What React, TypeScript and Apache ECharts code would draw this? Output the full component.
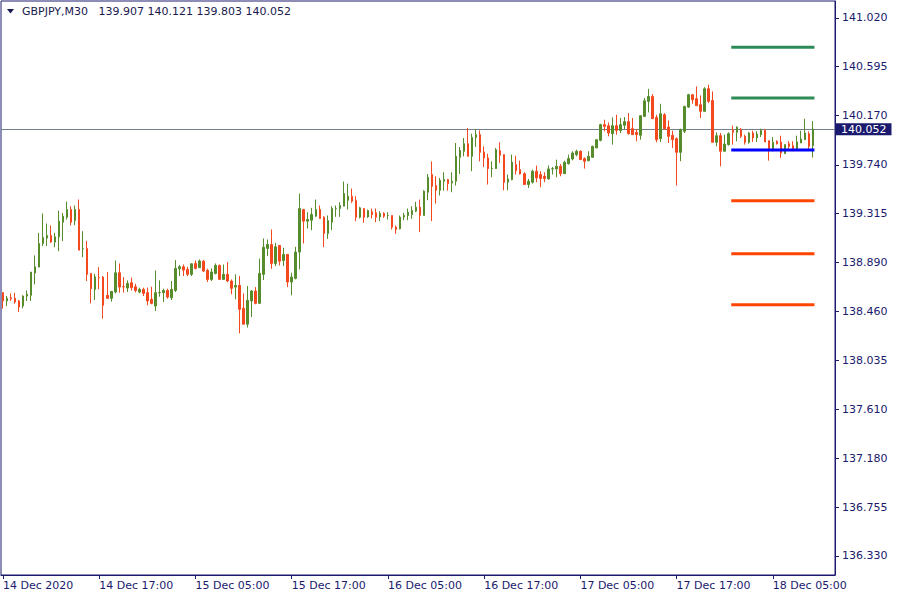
import React, { useEffect, useRef } from "react";
import * as echarts from "echarts";

const FONT = "DejaVu Sans";
const NAVY = "#1a1a6e";

const symbolName = "GBPJPY,M30";

// OHLC of M30 bars, 14 Dec 2020 05:00 onwards
const opens = [
  138.625, 138.553, 138.582, 138.576, 138.553, 138.509, 138.596, 138.602, 138.796, 138.848,
  139.054, 139.101, 139.124, 139.066, 139.112, 139.240, 139.283, 139.350, 139.254, 139.350,
  139.008, 139.011, 138.793, 138.654, 138.756, 138.761, 138.602, 138.576, 138.631, 138.799,
  138.677, 138.666, 138.712, 138.677, 138.631, 138.654, 138.625, 138.567, 138.509, 138.625,
  138.625, 138.645, 138.581, 138.645, 138.834, 138.851, 138.828, 138.785, 138.880, 138.843,
  138.900, 138.819, 138.741, 138.793, 138.863, 138.741, 138.785, 138.727, 138.674, 138.689,
  138.489, 138.350, 138.553, 138.640, 138.532, 138.785, 139.011, 139.045, 138.880, 139.037,
  138.906, 138.959, 138.718, 138.750, 138.979, 139.350, 139.249, 139.257, 139.292, 139.350,
  139.283, 139.141, 139.240, 139.356, 139.359, 139.379, 139.431, 139.466, 139.428, 139.283,
  139.359, 139.286, 139.330, 139.321, 139.286, 139.315, 139.298, 139.298, 139.196, 139.182,
  139.286, 139.298, 139.307, 139.336, 139.370, 139.298, 139.501, 139.655, 139.559, 139.518,
  139.597, 139.611, 139.582, 139.597, 139.805, 139.858, 139.924, 139.814, 139.979, 140.003,
  139.852, 139.800, 139.707, 139.707, 139.863, 139.829, 139.588, 139.611, 139.742, 139.698,
  139.663, 139.568, 139.588, 139.684, 139.655, 139.640, 139.617, 139.704, 139.704, 139.727,
  139.663, 139.750, 139.791, 139.829, 139.858, 139.794, 139.776, 139.805, 139.887, 139.953,
  140.090, 140.081, 140.011, 140.081, 140.040, 140.084, 140.116, 140.055, 140.023, 139.997,
  140.162, 140.293, 140.336, 140.153, 139.968, 140.176, 140.069, 139.997, 139.968, 139.849,
  140.032, 140.243, 140.351, 140.316, 140.264, 140.206, 140.403, 140.301, 139.936, 139.994,
  139.858, 139.916, 140.040, 140.023, 140.046, 139.988, 139.936, 140.017, 139.974, 140.003,
  140.040, 139.950, 139.863, 139.945, 139.939, 139.837, 139.924, 139.907, 139.872, 139.930,
  139.959, 140.011, 139.907,
];
const highs = [
  138.631, 138.596, 138.619, 138.625, 138.561, 138.602, 138.645, 138.805, 138.950, 139.147,
  139.315, 139.228, 139.211, 139.147, 139.341, 139.321, 139.420, 139.379, 139.385, 139.437,
  139.161, 139.075, 138.793, 138.790, 138.848, 138.770, 138.805, 138.637, 138.906, 138.880,
  138.761, 138.732, 138.756, 138.703, 138.669, 138.669, 138.669, 138.677, 138.819, 138.732,
  138.660, 138.660, 138.727, 138.909, 138.866, 138.871, 138.851, 138.880, 138.906, 138.915,
  138.909, 138.834, 138.837, 138.880, 138.871, 138.871, 138.892, 138.741, 138.785, 138.770,
  138.619, 138.683, 138.648, 138.674, 138.921, 139.098, 139.089, 139.176, 139.060, 139.037,
  139.017, 138.959, 138.799, 139.025, 139.489, 139.356, 139.327, 139.365, 139.437, 139.385,
  139.292, 139.298, 139.379, 139.385, 139.414, 139.594, 139.576, 139.533, 139.466, 139.373,
  139.359, 139.350, 139.359, 139.359, 139.335, 139.327, 139.327, 139.298, 139.211, 139.298,
  139.321, 139.359, 139.379, 139.417, 139.437, 139.518, 139.660, 139.770, 139.640, 139.626,
  139.675, 139.617, 139.675, 139.930, 139.895, 139.974, 140.061, 140.011, 140.052, 140.040,
  139.901, 139.837, 139.770, 139.887, 139.936, 139.829, 139.655, 139.829, 139.820, 139.776,
  139.675, 139.617, 139.698, 139.733, 139.684, 139.675, 139.733, 139.721, 139.785, 139.747,
  139.776, 139.829, 139.858, 139.872, 139.866, 139.805, 139.858, 139.907, 139.959, 140.098,
  140.133, 140.110, 140.153, 140.176, 140.148, 140.156, 140.191, 140.148, 140.052, 140.171,
  140.322, 140.403, 140.356, 140.176, 140.272, 140.191, 140.127, 140.037, 139.979, 140.055,
  140.255, 140.359, 140.356, 140.423, 140.345, 140.417, 140.438, 140.380, 140.023, 140.017,
  140.003, 140.023, 140.081, 140.075, 140.061, 140.003, 140.026, 140.037, 140.032, 140.055,
  140.052, 139.950, 139.982, 139.953, 139.994, 139.916, 139.945, 139.945, 139.994, 140.037,
  140.142, 140.032, 140.121,
];
const lows = [
  138.486, 138.509, 138.553, 138.529, 138.457, 138.489, 138.553, 138.553, 138.697, 138.848,
  139.031, 139.031, 139.060, 139.022, 138.987, 139.075, 139.263, 139.211, 139.214, 138.996,
  138.935, 138.727, 138.532, 138.561, 138.654, 138.399, 138.576, 138.547, 138.619, 138.625,
  138.625, 138.631, 138.645, 138.628, 138.619, 138.596, 138.515, 138.524, 138.465, 138.590,
  138.544, 138.573, 138.561, 138.631, 138.770, 138.770, 138.770, 138.770, 138.828, 138.843,
  138.805, 138.718, 138.727, 138.785, 138.741, 138.741, 138.718, 138.611, 138.567, 138.271,
  138.350, 138.321, 138.413, 138.524, 138.532, 138.735, 138.944, 138.834, 138.857, 138.863,
  138.857, 138.674, 138.602, 138.741, 138.828, 139.054, 139.185, 139.170, 139.286, 139.272,
  139.022, 139.095, 139.170, 139.286, 139.286, 139.379, 139.350, 139.408, 139.249, 139.272,
  139.234, 139.277, 139.272, 139.240, 139.249, 139.277, 139.263, 139.176, 139.138, 139.176,
  139.257, 139.257, 139.269, 139.327, 139.153, 139.298, 139.431, 139.249, 139.402, 139.472,
  139.515, 139.515, 139.501, 139.559, 139.660, 139.814, 139.814, 139.684, 139.895, 139.770,
  139.721, 139.568, 139.631, 139.704, 139.756, 139.518, 139.518, 139.605, 139.655, 139.655,
  139.568, 139.539, 139.576, 139.588, 139.544, 139.588, 139.611, 139.655, 139.631, 139.640,
  139.660, 139.742, 139.779, 139.814, 139.785, 139.707, 139.771, 139.800, 139.887, 139.944,
  140.032, 139.988, 139.916, 140.003, 140.017, 140.052, 140.003, 140.003, 139.945, 139.959,
  140.156, 140.197, 140.142, 139.936, 139.939, 140.046, 139.930, 139.887, 139.559, 139.771,
  140.017, 140.235, 140.272, 140.255, 140.148, 140.206, 140.278, 139.936, 139.901, 139.727,
  139.858, 139.907, 139.916, 139.945, 139.974, 139.916, 139.924, 139.939, 139.939, 139.982,
  139.939, 139.776, 139.858, 139.916, 139.800, 139.837, 139.866, 139.858, 139.866, 139.930,
  139.959, 139.872, 139.803,
];
const closes = [
  138.553, 138.576, 138.573, 138.544, 138.500, 138.596, 138.611, 138.805, 138.851, 139.054,
  139.106, 139.124, 139.066, 139.112, 139.248, 139.292, 139.350, 139.240, 139.350, 138.996,
  139.009, 138.785, 138.660, 138.764, 138.755, 138.515, 138.576, 138.637, 138.799, 138.674,
  138.676, 138.706, 138.669, 138.645, 138.654, 138.619, 138.553, 138.532, 138.625, 138.626,
  138.645, 138.587, 138.654, 138.837, 138.851, 138.822, 138.785, 138.877, 138.837, 138.901,
  138.814, 138.741, 138.805, 138.863, 138.741, 138.785, 138.727, 138.663, 138.689, 138.480,
  138.350, 138.558, 138.640, 138.532, 138.793, 139.022, 139.045, 138.880, 139.025, 138.900,
  138.959, 138.718, 138.761, 138.979, 139.359, 139.249, 139.263, 139.307, 139.350, 139.272,
  139.141, 139.254, 139.359, 139.357, 139.385, 139.489, 139.466, 139.422, 139.283, 139.365,
  139.283, 139.341, 139.307, 139.283, 139.315, 139.292, 139.299, 139.196, 139.176, 139.283,
  139.298, 139.327, 139.341, 139.370, 139.298, 139.510, 139.631, 139.553, 139.518, 139.605,
  139.611, 139.576, 139.597, 139.814, 139.866, 139.924, 139.814, 139.979, 140.003, 139.849,
  139.800, 139.707, 139.708, 139.872, 139.823, 139.588, 139.617, 139.762, 139.689, 139.660,
  139.568, 139.597, 139.684, 139.626, 139.620, 139.620, 139.704, 139.705, 139.727, 139.663,
  139.762, 139.794, 139.843, 139.858, 139.785, 139.771, 139.814, 139.901, 139.959, 140.090,
  140.075, 140.017, 140.081, 140.040, 140.090, 140.116, 140.011, 140.003, 140.003, 140.168,
  140.298, 140.336, 140.142, 139.959, 140.185, 140.055, 139.988, 139.959, 139.849, 140.046,
  140.249, 140.351, 140.307, 140.255, 140.206, 140.403, 140.293, 139.936, 139.994, 139.858,
  139.921, 140.011, 140.023, 140.069, 139.988, 139.936, 140.017, 139.974, 140.008, 140.040,
  139.939, 139.863, 139.936, 139.924, 139.843, 139.916, 139.901, 139.872, 139.939, 139.965,
  140.017, 139.901, 140.052,
];

// Price-axis labels
const yTickValues = [
  136.33, 136.755, 137.18, 137.61, 138.035, 138.46, 138.89, 139.315, 139.74, 140.17, 140.595, 141.02,
];
const yMin = 136.164;
const yMax = 141.168;

// Pivot levels (R2, R1, P, S1, S2, S3) drawn over the last session's bars
const pivotLevels = [140.765, 140.322, 139.869, 139.426, 138.965, 138.521];
const pivotColors = ["#2e8b57", "#2e8b57", "#0000ff", "#ff4500", "#ff4500", "#ff4500"];
const pivotStartIndex = 182;

// time axis: 30-minute bars, plus empty slots for the chart shift
const totalSlots = 208;
const pad = (n: number) => (n < 10 ? "0" + n : "" + n);
const categories: string[] = [];
for (let i = 0; i < totalSlots; i++) {
  const mins = 5 * 60 + 30 * i;
  const day = 14 + Math.floor(mins / 1440);
  const hm = mins % 1440;
  categories.push(
    i === 0 ? "14 Dec 2020" : `${day} Dec ${pad(Math.floor(hm / 60))}:${pad(hm % 60)}`
  );
}

export default function App() {
  const ref = useRef<HTMLDivElement>(null);
  useEffect(() => {
    if (!ref.current) return;
    const chart = echarts.init(ref.current, undefined, { renderer: "svg" });
    const n = opens.length;
    const last = n - 1;
    const candleData = opens.map((o, i) => [o, closes[i], lows[i], highs[i]]);
    const lastClose = closes[last];
    const gap = "\u00a0\u00a0\u00a0";
    const titleText =
      `${symbolName}${gap}${opens[last].toFixed(3)} ${highs[last].toFixed(3)} ` +
      `${lows[last].toFixed(3)} ${closes[last].toFixed(3)}`;

    const pivotSeries = pivotLevels.map((lvl, k) => ({
      type: "line",
      data: categories.map((_, i) => (i >= pivotStartIndex && i < n ? lvl : null)),
      showSymbol: false,
      silent: true,
      z: 5,
      lineStyle: { color: pivotColors[k], width: 3, cap: "square" },
    }));

    chart.setOption({
      animation: false,
      backgroundColor: "#ffffff",
      title: {
        text: titleText,
        left: 22,
        top: 6,
        padding: 0,
        textStyle: { fontSize: 11, fontWeight: "normal", color: "#1a1a50", fontFamily: FONT },
      },
      graphic: [
        {
          type: "polygon",
          shape: { points: [[7, 9], [14, 9], [10.5, 13.5]] },
          style: { fill: "#1a1a50" },
        },
      ],
      grid: {
        left: 1,
        right: 65,
        top: 1,
        bottom: 25,
        show: true,
        borderColor: NAVY,
        borderWidth: 1,
        backgroundColor: "transparent",
      },
      xAxis: {
        type: "category",
        data: categories,
        boundaryGap: true,
        axisLine: { show: true, lineStyle: { color: NAVY } },
        axisTick: { show: true, alignWithLabel: true, interval: 23, length: 4, lineStyle: { color: NAVY } },
        axisLabel: {
          interval: 23,
          align: "left",
          margin: 5,
          color: NAVY,
          fontSize: 11,
          fontFamily: FONT,
        },
        splitLine: { show: false },
      },
      yAxis: {
        type: "value",
        position: "right",
        min: yMin,
        max: yMax,
        scale: true,
        axisLine: { show: true, lineStyle: { color: NAVY } },
        axisTick: { show: true, length: 4, customValues: yTickValues, lineStyle: { color: NAVY } },
        axisLabel: {
          customValues: yTickValues,
          formatter: (v: number) => v.toFixed(3),
          color: NAVY,
          fontSize: 11,
          fontFamily: FONT,
          margin: 7,
        },
        splitLine: { show: false },
      },
      series: [
        {
          type: "candlestick",
          data: candleData,
          barWidth: 2,
          z: 3,
          itemStyle: {
            color: "#568c2c",
            color0: "#f4491f",
            borderColor: "#568c2c",
            borderColor0: "#f4491f",
            borderWidth: 1,
          },
          markLine: {
            silent: true,
            symbol: ["none", "none"],
            z: 1,
            data: [{ yAxis: lastClose }],
            lineStyle: { color: "#708090", width: 1, type: "solid" },
            label: {
              show: true,
              position: "end",
              distance: 1,
              formatter: lastClose.toFixed(3),
              backgroundColor: NAVY,
              color: "#ffffff",
              fontSize: 11,
              fontFamily: FONT,
              padding: [1, 5, 0, 5],
            },
          },
        },
        ...pivotSeries,
      ],
    } as any);
    return () => chart.dispose();
  }, []);
  return (
    <div
      ref={ref}
      style={{ position: "fixed", left: 0, top: 0, width: 900, height: 600, background: "#fff" }}
    />
  );
}
